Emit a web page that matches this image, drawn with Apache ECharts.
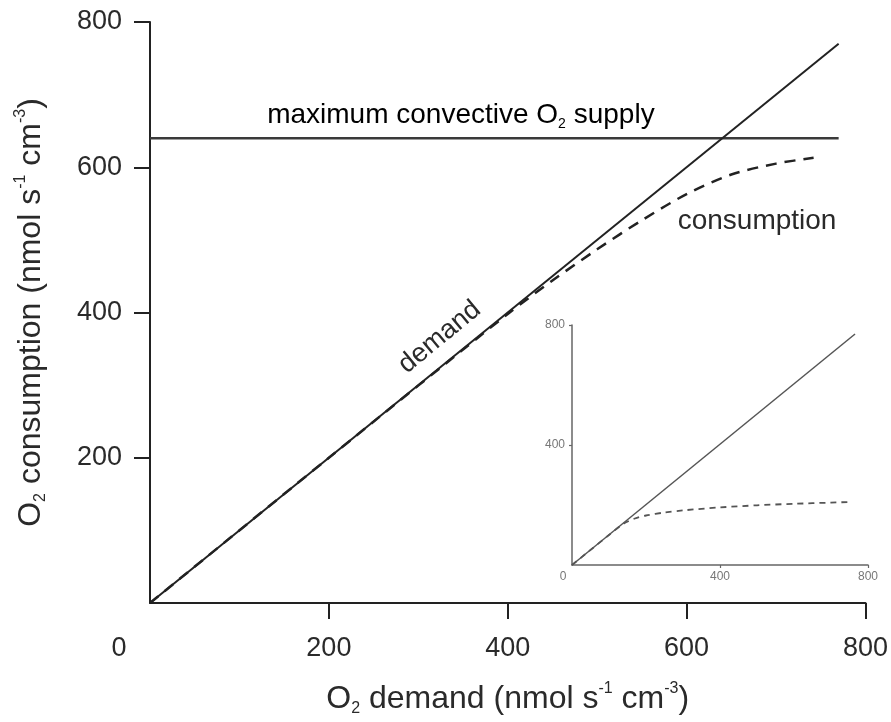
<!DOCTYPE html>
<html><head><meta charset="utf-8">
<script src="https://cdn.jsdelivr.net/npm/echarts@6/dist/echarts.min.js"></script>
<style>html,body{margin:0;padding:0;background:#fff}#c{width:891px;height:722px}</style>
</head><body><div id="c"></div>
<script>
// ---- data ----
const demandX = [0, 770];
const demandY = [0, 770];
const supplyX = [0, 770];
const supplyY = [640, 640];
const consX = [0, 200, 400, 450, 500, 550, 600, 650, 700, 742];
const consY = [0, 200, 398, 444, 487, 527, 563, 590, 605, 613];
const insetDemandX = [0, 765];
const insetDemandY = [0, 770];
const insetConsX = [0, 100, 140, 170, 200, 250, 300, 400, 500, 600, 700, 750];
const insetConsY = [0, 100, 138, 155, 165, 175, 182, 192, 199, 204, 208, 210];
const mainTicks = [0, 200, 400, 600, 800];
const insetTicks = [0, 400, 800];
// annotation anchors (data coords)
const supplyLabelAt = [131, 672];
const consLabelAt = [590, 525];
const demandLabelAt = [324, 366];

const FONT = "'Liberation Sans', Arial, Helvetica, sans-serif";
const TXT = '#2a2a2a';
const FS = 27;   // tick labels
const TFS = 32;  // axis titles
function rich(fs) {
  return {
    n: {fontSize: fs, fontFamily: FONT, color: TXT, lineHeight: fs + 4, verticalAlign: 'middle'},
    sub: {fontSize: Math.round(fs * 0.5), fontFamily: FONT, color: TXT, lineHeight: Math.round(fs * 0.6), verticalAlign: 'bottom'},
    sup: {fontSize: Math.round(fs * 0.5), fontFamily: FONT, color: TXT, lineHeight: Math.round(fs * 0.6), verticalAlign: 'top'}
  };
}
const zip = (a, b) => a.map((v, i) => [v, b[i]]);
const nonZero = arr => arr.filter(v => v !== 0);

const chart = echarts.init(document.getElementById('c'));
chart.setOption({
  animation: false,
  backgroundColor: '#fff',
  grid: [
    {left: 150, right: 23, top: 22, bottom: 116},
    {left: 572, right: 23, top: 325, bottom: 157}
  ],
  xAxis: [
    {
      gridIndex: 0, type: 'value', min: mainTicks[0], max: mainTicks[mainTicks.length - 1], interval: mainTicks[1] - mainTicks[0],
      axisLine: {lineStyle: {color: '#222', width: 2}},
      axisTick: {length: 16, customValues: nonZero(mainTicks), lineStyle: {color: '#222', width: 2}},
      splitLine: {show: false},
      axisLabel: {
        fontSize: FS, fontFamily: FONT, color: TXT, margin: 32,
        formatter: v => v === 0 ? '{z|0}' : String(v),
        rich: {z: {fontSize: FS, fontFamily: FONT, color: TXT, padding: [0, 62, 0, 0]}}
      },
      name: '{n|O}{sub|2}{n| demand (nmol s}{sup|-1}{n| cm}{sup|-3}{n|)}',
      nameLocation: 'middle', nameGap: 78,
      nameTextStyle: {rich: rich(TFS)}
    },
    {
      gridIndex: 1, type: 'value', min: insetTicks[0], max: insetTicks[insetTicks.length - 1], interval: insetTicks[1] - insetTicks[0],
      axisLine: {lineStyle: {color: '#666', width: 1.5}},
      axisTick: {length: 3, customValues: nonZero(insetTicks), lineStyle: {color: '#666', width: 1.2}},
      splitLine: {show: false},
      axisLabel: {
        fontSize: 12, fontFamily: FONT, color: '#777', margin: 6,
        formatter: v => v === 0 ? '{z|0}' : String(v),
        rich: {z: {fontSize: 12, fontFamily: FONT, color: '#777', padding: [0, 18, 0, 0]}}
      }
    }
  ],
  yAxis: [
    {
      gridIndex: 0, type: 'value', min: mainTicks[0], max: mainTicks[mainTicks.length - 1], interval: mainTicks[1] - mainTicks[0],
      axisLine: {show: true, lineStyle: {color: '#222', width: 2}},
      axisTick: {show: true, length: 16, customValues: nonZero(mainTicks), lineStyle: {color: '#222', width: 2}},
      splitLine: {show: false},
      axisLabel: {fontSize: FS, fontFamily: FONT, color: TXT, margin: 28, formatter: v => v === 0 ? '' : String(v)},
      name: '{n|O}{sub|2}{n| consumption (nmol s}{sup|-1}{n| cm}{sup|-3}{n|)}',
      nameLocation: 'middle', nameGap: 101, nameRotate: 90,
      nameTextStyle: {rich: rich(TFS)}
    },
    {
      gridIndex: 1, type: 'value', min: insetTicks[0], max: insetTicks[insetTicks.length - 1], interval: insetTicks[1] - insetTicks[0],
      axisLine: {show: true, lineStyle: {color: '#666', width: 1.5}},
      axisTick: {show: true, length: 3, customValues: nonZero(insetTicks), lineStyle: {color: '#666', width: 1.2}},
      splitLine: {show: false},
      axisLabel: {fontSize: 12, fontFamily: FONT, color: '#777', margin: 7, formatter: v => v === 0 ? '' : String(v)}
    }
  ],
  series: [
    {type: 'line', xAxisIndex: 0, yAxisIndex: 0, data: zip(supplyX, supplyY), showSymbol: false, symbol: 'none',
     lineStyle: {color: '#3a3a3a', width: 2.5}},
    {type: 'line', xAxisIndex: 0, yAxisIndex: 0, data: zip(consX, consY), showSymbol: false, symbol: 'none',
     smooth: 0.3,
     lineStyle: {color: '#222', width: 2.5, type: [11, 8]}},
    {type: 'line', xAxisIndex: 0, yAxisIndex: 0, data: zip(demandX, demandY), showSymbol: false, symbol: 'none',
     lineStyle: {color: '#222', width: 2}},
    {type: 'line', xAxisIndex: 1, yAxisIndex: 1, data: zip(insetConsX, insetConsY), showSymbol: false, symbol: 'none',
     smooth: 0.3,
     lineStyle: {color: '#555', width: 1.8, type: [6, 5]}},
    {type: 'line', xAxisIndex: 1, yAxisIndex: 1, data: zip(insetDemandX, insetDemandY), showSymbol: false, symbol: 'none',
     lineStyle: {color: '#555', width: 1.5}}
  ]
});

const p1 = chart.convertToPixel({xAxisIndex: 0, yAxisIndex: 0}, supplyLabelAt);
const p2 = chart.convertToPixel({xAxisIndex: 0, yAxisIndex: 0}, consLabelAt);
const p3 = chart.convertToPixel({xAxisIndex: 0, yAxisIndex: 0}, demandLabelAt);
chart.setOption({
  graphic: [
    {type: 'text', x: p1[0], y: p1[1], style: {
      text: '{n|maximum convective O}{sub|2}{n| supply}', rich: rich(28), align: 'left', verticalAlign: 'middle'}},
    {type: 'text', x: p2[0], y: p2[1], style: {
      text: 'consumption', font: '28px ' + FONT, fill: TXT, align: 'left', verticalAlign: 'middle'}},
    {type: 'text', x: p3[0], y: p3[1], rotation: 39.5 * Math.PI / 180, style: {
      text: 'demand', font: FS + 'px ' + FONT, fill: TXT, align: 'center', verticalAlign: 'middle'}}
  ]
});
</script>
</body></html>
